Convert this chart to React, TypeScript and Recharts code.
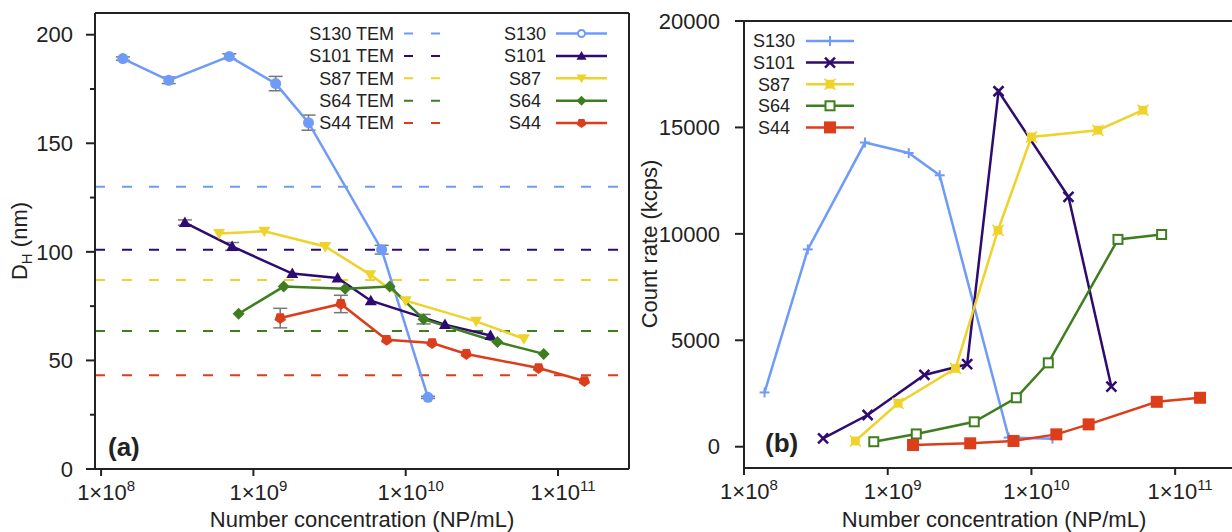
import React from "react";
import { LineChart, Line, XAxis, YAxis, ReferenceLine, ErrorBar } from "recharts";

const SAMPLES = ["S130", "S101", "S87", "S64", "S44"];
const COLORS = ["#6F9BF8", "#2E0B70", "#EFD22B", "#3E7E1F", "#DC3D1B"];
const TEM_SIZES = [130, 101, 87, 63.5, 43.2];

// number concentration (NP/mL), same dilutions in both panels
const CONC_S130 = [1.39e8, 2.78e8, 6.95e8, 1.4e9, 2.3e9, 6.95e9, 1.4e10];
const CONC_S101 = [3.55e8, 7.25e8, 1.8e9, 3.57e9, 5.9e9, 1.81e10, 3.6e10];
const CONC_S87 = [5.95e8, 1.18e9, 2.96e9, 5.85e9, 1.0e10, 2.9e10, 5.97e10];
const CONC_S64 = [8.0e8, 1.58e9, 4.0e9, 7.85e9, 1.31e10, 4.0e10, 8.05e10];
const CONC_S44 = [1.5e9, 3.75e9, 7.5e9, 1.49e10, 2.5e10, 7.45e10, 1.49e11];

// hydrodynamic diameter (nm) and its error
const DH_S130 = [189, 179, 190, 177.5, 159.5, 101, 33];
const DH_S101 = [113.5, 102.5, 90, 88, 77.5, 66.5, 61.5];
const DH_S87 = [108.5, 109.5, 102.5, 89.5, 77.5, 68, 60];
const DH_S64 = [71.5, 84, 83, 84, 69, 58.5, 53];
const DH_S44 = [69.5, 76, 59.5, 58, 53, 46.5, 40.5];

const ERR_S130 = [0.8, 1.5, 1.2, 3.3, 3.5, 2, 0.5];
const ERR_S101 = [1.2, 1.8, 0, 0, 0, 0, 0];
const ERR_S87 = [0, 0, 0, 0, 0, 0, 0];
const ERR_S64 = [0, 0, 0, 0, 2.2, 0, 0];
const ERR_S44 = [4.5, 4, 0, 0, 0, 0, 0];

// count rate (kcps)
const RATE_S130 = [2550, 9270, 14290, 13800, 12750, 430, 380];
const RATE_S101 = [390, 1490, 3370, 3880, 16700, 11740, 2820];
const RATE_S87 = [270, 2040, 3680, 10170, 14550, 14870, 15810];
const RATE_S64 = [235, 600, 1170, 2300, 3940, 9740, 9970];
const RATE_S44 = [80, 160, 270, 580, 1050, 2110, 2300];

const DECADE_TICKS = [1e8, 1e9, 1e10, 1e11];
const DH_TICKS = [0, 25, 50, 75, 100, 125, 150, 175, 200];
const RATE_TICKS = [0, 5000, 10000, 15000, 20000];

const CONCS = [CONC_S130, CONC_S101, CONC_S87, CONC_S64, CONC_S44];
const DHS = [DH_S130, DH_S101, DH_S87, DH_S64, DH_S44];
const ERRS = [ERR_S130, ERR_S101, ERR_S87, ERR_S64, ERR_S44];
const RATES = [RATE_S130, RATE_S101, RATE_S87, RATE_S64, RATE_S44];

const SHAPES_A = ["circle", "triUp", "triDown", "diamond", "pentagon"];
const SHAPES_B = ["plus", "cross", "starSquare", "openSquare", "square"];

const AXIS = "#222";
const FONT = "'Liberation Sans', Arial, Helvetica, sans-serif";

const XA_MIN = Math.pow(10, 7.96);
const XA_MAX = Math.pow(10, 11.466);
const XB_MIN = 1e8;
const XB_MAX = Math.pow(10, 11.479);

const rows = (xs: number[], ys: number[], errs?: number[]) =>
  xs.map((x, i) => ({ x, y: ys[i], err: errs ? errs[i] : 0 }));

function Marker({ shape, cx, cy, color, s }: any) {
  switch (shape) {
    case "circle":
      return <circle cx={cx} cy={cy} r={s} fill={color} />;
    case "ring":
      return <circle cx={cx} cy={cy} r={s} fill="#fff" stroke={color} strokeWidth={2} />;
    case "triUp":
      return (
        <polygon
          points={`${cx},${cy - s} ${cx + s},${cy + s * 0.75} ${cx - s},${cy + s * 0.75}`}
          fill={color}
        />
      );
    case "triDown":
      return (
        <polygon
          points={`${cx},${cy + s} ${cx + s},${cy - s * 0.75} ${cx - s},${cy - s * 0.75}`}
          fill={color}
        />
      );
    case "diamond":
      return (
        <polygon points={`${cx},${cy - s} ${cx + s},${cy} ${cx},${cy + s} ${cx - s},${cy}`} fill={color} />
      );
    case "pentagon": {
      const pts = [0, 1, 2, 3, 4]
        .map((k) => {
          const a = ((90 + 72 * k) * Math.PI) / 180;
          return `${cx + s * Math.cos(a)},${cy + s * Math.sin(a)}`;
        })
        .join(" ");
      return <polygon points={pts} fill={color} />;
    }
    case "plus":
      return (
        <g stroke={color} strokeWidth={2}>
          <line x1={cx - s} y1={cy} x2={cx + s} y2={cy} />
          <line x1={cx} y1={cy - s} x2={cx} y2={cy + s} />
        </g>
      );
    case "cross":
      return (
        <g stroke={color} strokeWidth={2.5}>
          <line x1={cx - s} y1={cy - s} x2={cx + s} y2={cy + s} />
          <line x1={cx - s} y1={cy + s} x2={cx + s} y2={cy - s} />
        </g>
      );
    case "starSquare":
      return (
        <g>
          <rect x={cx - s * 0.8} y={cy - s * 0.8} width={s * 1.6} height={s * 1.6} fill={color} />
          <g stroke={color} strokeWidth={1.5}>
            <line x1={cx - s} y1={cy - s} x2={cx + s} y2={cy + s} />
            <line x1={cx - s} y1={cy + s} x2={cx + s} y2={cy - s} />
          </g>
        </g>
      );
    case "openSquare":
      return (
        <rect x={cx - s} y={cy - s} width={s * 2} height={s * 2} fill="#fff" stroke={color} strokeWidth={2} />
      );
    case "square":
    default:
      return <rect x={cx - s} y={cy - s} width={s * 2} height={s * 2} fill={color} />;
  }
}

const SIZE_B: Record<string, number> = { plus: 5, cross: 5, starSquare: 5.5, openSquare: 4.5, square: 6 };

function DecadeTick({ x, y, payload }: any) {
  const exp = Math.round(Math.log10(payload.value));
  return (
    <g>
      <line x1={x} y1={y} x2={x} y2={y + 7} stroke={AXIS} strokeWidth={2} />
      <text x={x + 5} y={y + 31} textAnchor="middle" fontSize={22} fill={AXIS}>
        1×10
        <tspan dy={-9} fontSize={15}>
          {exp}
        </tspan>
      </text>
    </g>
  );
}

function DhTick({ x, y, payload }: any) {
  const major = payload.value % 50 === 0;
  return (
    <g>
      <line x1={x} y1={y} x2={x - (major ? 9 : 5)} y2={y} stroke={AXIS} strokeWidth={2} />
      {major && (
        <text x={x - 22} y={y} dy="0.35em" textAnchor="end" fontSize={22} fill={AXIS}>
          {payload.value}
        </text>
      )}
    </g>
  );
}

function RateTick({ x, y, payload }: any) {
  return (
    <g>
      <line x1={x} y1={y} x2={x - 9} y2={y} stroke={AXIS} strokeWidth={2} />
      <text x={x - 24} y={y} dy="0.35em" textAnchor="end" fontSize={22} fill={AXIS}>
        {payload.value}
      </text>
    </g>
  );
}

const xLabel = {
  value: "Number concentration (NP/mL)",
  position: "insideBottom" as const,
  offset: 5,
  fontSize: 22,
  fill: AXIS,
};

function PanelA() {
  return (
    <LineChart width={640} height={532} margin={{ top: 13, right: 11, bottom: 0, left: 0 }}>
      <XAxis
        dataKey="x"
        type="number"
        scale="log"
        domain={[XA_MIN, XA_MAX]}
        allowDataOverflow
        ticks={DECADE_TICKS}
        tick={<DecadeTick />}
        tickLine={false}
        tickSize={0}
        tickMargin={0}
        height={63}
        axisLine={{ stroke: AXIS, strokeWidth: 2 }}
        label={xLabel}
      />
      <YAxis
        type="number"
        domain={[0, 210]}
        ticks={DH_TICKS}
        tick={<DhTick />}
        tickLine={false}
        tickSize={0}
        tickMargin={0}
        width={95}
        axisLine={{ stroke: AXIS, strokeWidth: 2 }}
      />
      <ReferenceLine y={210} stroke={AXIS} strokeWidth={2} />
      <ReferenceLine x={XA_MAX} stroke={AXIS} strokeWidth={2} />
      {TEM_SIZES.map((v, i) => (
        <ReferenceLine key={SAMPLES[i]} y={v} stroke={COLORS[i]} strokeWidth={2} strokeDasharray="10 17" />
      ))}
      {SAMPLES.map((name, i) => (
        <Line
          key={name}
          data={rows(CONCS[i], DHS[i], ERRS[i])}
          dataKey="y"
          stroke={COLORS[i]}
          strokeWidth={2.5}
          isAnimationActive={false}
          dot={(p: any) => (
            <Marker key={p.index} shape={SHAPES_A[i]} cx={p.cx} cy={p.cy} color={COLORS[i]} s={i === 0 ? 5.5 : 6} />
          )}
        >
          <ErrorBar dataKey="err" width={7} stroke="#777" strokeWidth={1.5} direction="y" />
        </Line>
      ))}
    </LineChart>
  );
}

function PanelB() {
  return (
    <LineChart width={612} height={532} margin={{ top: 21, right: 0, bottom: 0, left: 0 }}>
      <XAxis
        dataKey="x"
        type="number"
        scale="log"
        domain={[XB_MIN, XB_MAX]}
        allowDataOverflow
        ticks={DECADE_TICKS}
        tick={<DecadeTick />}
        tickLine={false}
        tickSize={0}
        tickMargin={0}
        height={64}
        axisLine={{ stroke: AXIS, strokeWidth: 2 }}
        label={xLabel}
      />
      <YAxis
        type="number"
        domain={[-1000, 20000]}
        ticks={RATE_TICKS}
        tick={<RateTick />}
        tickLine={false}
        tickSize={0}
        tickMargin={0}
        width={112}
        axisLine={{ stroke: AXIS, strokeWidth: 2 }}
      />
      <ReferenceLine y={20000} stroke={AXIS} strokeWidth={2} />
      {SAMPLES.map((name, i) => (
        <Line
          key={name}
          data={rows(CONCS[i], RATES[i])}
          dataKey="y"
          stroke={COLORS[i]}
          strokeWidth={2.5}
          isAnimationActive={false}
          dot={(p: any) => (
            <Marker key={p.index} shape={SHAPES_B[i]} cx={p.cx} cy={p.cy} color={COLORS[i]} s={SIZE_B[SHAPES_B[i]]} />
          )}
        />
      ))}
    </LineChart>
  );
}

const LEGEND_A_SHAPES = ["ring", "triUp", "triDown", "diamond", "pentagon"];

function Overlay() {
  return (
    <svg width={1232} height={532} style={{ position: "absolute", left: 0, top: 0, pointerEvents: "none" }}>
      {/* panel (a) legend */}
      {SAMPLES.map((name, i) => {
        const cy = 33.5 + i * 22.4;
        return (
          <g key={name} fontSize={18} fill={AXIS}>
            <text x={394} y={cy} dy="0.35em" textAnchor="end">
              {name} TEM
            </text>
            <line x1={404} y1={cy} x2={440} y2={cy} stroke={COLORS[i]} strokeWidth={2} strokeDasharray="9 18" />
            <text x={525} y={cy} dy="0.35em" textAnchor="middle">
              {name}
            </text>
            <line x1={556} y1={cy} x2={607} y2={cy} stroke={COLORS[i]} strokeWidth={2.5} />
            <Marker shape={LEGEND_A_SHAPES[i]} cx={581.5} cy={cy} color={COLORS[i]} s={i === 0 ? 3.5 : 5} />
          </g>
        );
      })}
      {/* panel (b) legend */}
      {SAMPLES.map((name, i) => {
        const cy = 41 + i * 21.6;
        return (
          <g key={name} fontSize={18} fill={AXIS}>
            <text x={774} y={cy} dy="0.35em" textAnchor="middle">
              {name}
            </text>
            <line x1={806} y1={cy} x2={854} y2={cy} stroke={COLORS[i]} strokeWidth={2.5} />
            <Marker shape={SHAPES_B[i]} cx={830} cy={cy} color={COLORS[i]} s={SIZE_B[SHAPES_B[i]]} />
          </g>
        );
      })}
      <text x={108} y={456} fontSize={26} fontWeight="bold" fill={AXIS}>
        (a)
      </text>
      <text x={765} y={452} fontSize={26} fontWeight="bold" fill={AXIS}>
        (b)
      </text>
      <text transform="translate(27,241) rotate(-90)" textAnchor="middle" fontSize={22} fill={AXIS}>
        D
        <tspan dy={5} fontSize={15}>
          H
        </tspan>
        <tspan dy={-5}> (nm)</tspan>
      </text>
      <text transform="translate(657,244) rotate(-90)" textAnchor="middle" fontSize={22} fill={AXIS}>
        Count rate (kcps)
      </text>
    </svg>
  );
}

export default function App() {
  return (
    <div
      style={{
        position: "relative",
        width: 1232,
        height: 532,
        overflow: "hidden",
        background: "#fff",
        fontFamily: FONT,
      }}
    >
      <style>{"body{margin:0}"}</style>
      <div style={{ position: "absolute", left: 0, top: 0 }}>
        <PanelA />
      </div>
      <div style={{ position: "absolute", left: 632, top: 0 }}>
        <PanelB />
      </div>
      <Overlay />
    </div>
  );
}
